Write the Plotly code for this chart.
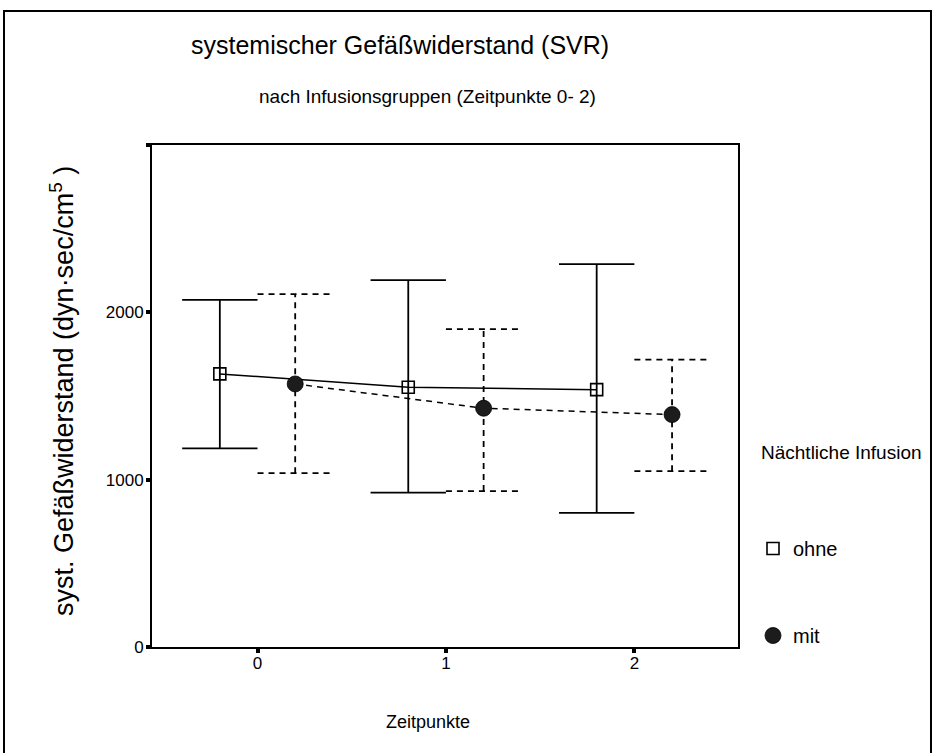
import plotly.graph_objects as go

# ---- data ----
time_points = [0, 1, 2]
tick_labels = ["0", "1", "2"]
groups = ["ohne", "mit"]
group_offset = {"ohne": -0.2, "mit": 0.2}

ohne_mean = [1632, 1552, 1538]
ohne_upper = [2075, 2193, 2288]
ohne_lower = [1187, 922, 801]

mit_mean = [1572, 1427, 1389]
mit_upper = [2109, 1900, 1717]
mit_lower = [1039, 932, 1051]

y_label_ticks = [0, 1000, 2000]
y_mark_step = 1000

FONT = "Liberation Sans, Arial, sans-serif"
CAP = 0.2  # half width of the error bar caps, in x units


def errorbar_path(xs, lo, hi):
    px, py = [], []
    for x, l, h in zip(xs, lo, hi):
        px += [x, x, None, x - CAP, x + CAP, None, x - CAP, x + CAP, None]
        py += [l, h, None, h, h, None, l, l, None]
    return px, py


fig = go.Figure()

series = {
    "ohne": dict(mean=ohne_mean, lo=ohne_lower, hi=ohne_upper, dash="solid",
                 marker=dict(symbol="square-open", size=12, color="black",
                             line=dict(width=1.6, color="black"))),
    "mit": dict(mean=mit_mean, lo=mit_lower, hi=mit_upper, dash="6px,5px",
                marker=dict(symbol="circle", size=16, color="#1c1c1c",
                            line=dict(width=0.8, color="black"))),
}

for g in groups:
    s = series[g]
    xs = [t + group_offset[g] for t in time_points]
    ex, ey = errorbar_path(xs, s["lo"], s["hi"])
    fig.add_trace(go.Scatter(x=ex, y=ey, mode="lines", showlegend=False,
                             hoverinfo="skip",
                             line=dict(color="black", width=1.8, dash=s["dash"])))
    fig.add_trace(go.Scatter(x=xs, y=s["mean"], mode="lines", showlegend=False,
                             hoverinfo="skip",
                             line=dict(color="black", width=1.5, dash=s["dash"])))
    fig.add_trace(go.Scatter(x=xs, y=s["mean"], mode="markers", name=g,
                             legendgroup=g, marker=s["marker"]))

W, H = 934, 753
L, R, T, B = 152, 196, 145, 106
pw, ph = W - L - R, H - T - B


def px_x(x):
    return (x - L) / pw


def px_y(y):
    return (H - B - y) / ph


fig.update_layout(
    width=W, height=H,
    margin=dict(l=L, r=R, t=T, b=B, pad=0),
    paper_bgcolor="white", plot_bgcolor="white",
    font=dict(family=FONT, color="black", size=17),
    xaxis=dict(range=[-0.56, 2.55], tickvals=time_points, ticktext=tick_labels,
               showgrid=False, zeroline=False, showline=True, mirror=True,
               linecolor="black", linewidth=2, ticks="outside", ticklen=4,
               tickwidth=4, tickcolor="black", tickfont=dict(size=17),
               ticklabelstandoff=-4),
    yaxis=dict(range=[0, 3000], tickvals=y_label_ticks,
               showgrid=False, zeroline=False, showline=True, mirror=True,
               linecolor="black", linewidth=2, ticks="outside", ticklen=4,
               tickwidth=4, tickcolor="black", tickfont=dict(size=17),
               ticklabelstandoff=-1,
               minor=dict(tick0=0, dtick=y_mark_step, ticks="outside", ticklen=4,
                          tickwidth=4, tickcolor="black", showgrid=False)),
    showlegend=True,
    legend=dict(x=px_x(753), y=px_y(529), xanchor="left", yanchor="top",
                font=dict(size=20), tracegroupgap=58, traceorder="grouped",
                bgcolor="rgba(0,0,0,0)", borderwidth=0),
    annotations=[
        dict(text="systemischer Gefäßwiderstand (SVR)", xref="paper", yref="paper",
             x=px_x(400), y=px_y(45), xanchor="center", yanchor="middle",
             showarrow=False, font=dict(size=25)),
        dict(text="nach Infusionsgruppen (Zeitpunkte 0- 2)", xref="paper", yref="paper",
             x=px_x(427), y=px_y(96), xanchor="center", yanchor="middle",
             showarrow=False, font=dict(size=19)),
        dict(text="syst. Gefäßwiderstand (dyn·sec/cm<sup>5</sup> )",
             xref="paper", yref="paper", textangle=-90,
             x=px_x(62), y=px_y(391), xanchor="center", yanchor="middle",
             showarrow=False, font=dict(size=27)),
        dict(text="Zeitpunkte", xref="paper", yref="paper",
             x=px_x(428), y=px_y(722), xanchor="center", yanchor="middle",
             showarrow=False, font=dict(size=18)),
        dict(text="Nächtliche Infusion", xref="paper", yref="paper",
             x=px_x(759), y=px_y(452), xanchor="left", yanchor="middle",
             showarrow=False, font=dict(size=19)),
    ],
    shapes=[
        dict(type="rect", xref="paper", yref="paper",
             x0=px_x(4), x1=px_x(931), y0=px_y(770), y1=px_y(11),
             line=dict(color="black", width=2), fillcolor="rgba(0,0,0,0)",
             layer="below"),
    ],
)

fig.write_html("out.html",
               config={"displayModeBar": False, "staticPlot": True},
               post_script="document.body.style.margin='0';"
                           "document.body.style.overflow='hidden';")
